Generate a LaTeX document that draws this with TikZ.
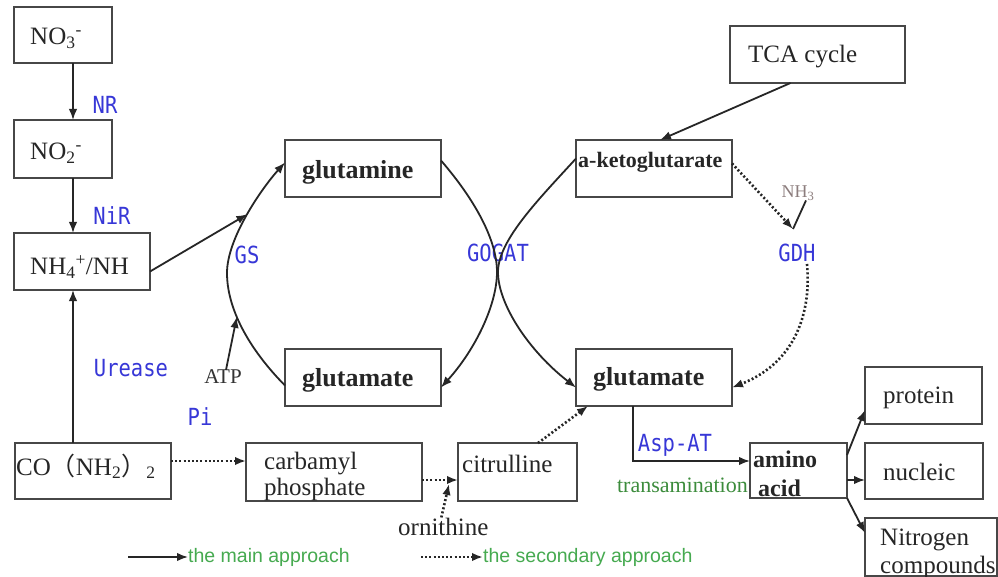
\documentclass[tikz,border=0pt]{standalone}
\usepackage{fontspec}
\usepackage{graphicx}
\setmainfont{Liberation Serif}
\newfontfamily\monof{DejaVu Sans Mono}
\newfontfamily\legf{Liberation Sans}
\newfontfamily\cjk{Noto Sans CJK SC}
\usetikzlibrary{arrows.meta,calc}
\definecolor{linec}{HTML}{262626}
\definecolor{enzc}{RGB}{55,55,215}
\definecolor{legc}{RGB}{70,170,80}
\definecolor{trc}{RGB}{60,140,60}
\definecolor{nhc}{RGB}{140,125,125}
\newcommand\enzt[1]{\scalebox{1}[1.15]{#1}}
\begin{document}
\begin{tikzpicture}[x=1pt,y=-1pt,
  box/.style={draw=linec!85, line width=1.6pt, inner sep=0pt, outer sep=0pt, rectangle},
  txt/.style={inner sep=0pt, anchor=base west, font=\fontsize{25}{26}\selectfont, text=black!85},
  btxt/.style={txt, font=\fontsize{#1}{#1}\selectfont\bfseries},
  enz/.style={inner sep=0pt, text=enzc, font=\monof\fontsize{20.5}{20.5}\selectfont},
  leg/.style={inner sep=0pt, anchor=west, font=\legf\fontsize{19.5}{19.5}\selectfont, text=legc},
  plain/.style={draw=linec, line width=1.8pt},
  arr/.style={plain, -{Latex[length=11pt,width=8.5pt]}},
  dotarr/.style={arr, line width=2.6pt, dash pattern=on 2pt off 2.2pt}
]
\fill[white] (0,0) rectangle (998,577);
\useasboundingbox (0,0) rectangle (998,577);

% boxes
\node[box, minimum width=98pt, minimum height=56pt] (no3) at (63,35) {};
\node[box, minimum width=98pt, minimum height=58pt] (no2) at (63,149) {};
\node[box, minimum width=136pt, minimum height=57pt] (nh4) at (82,261.5) {};
\node[box, minimum width=156pt, minimum height=57pt] (glnA) at (363,168.5) {};
\node[box, minimum width=156pt, minimum height=57pt] (gluL) at (363,377.5) {};
\node[box, minimum width=175pt, minimum height=57pt] (tca) at (817.5,54.5) {};
\node[box, minimum width=156pt, minimum height=57pt] (akg) at (654,168.5) {};
\node[box, minimum width=156pt, minimum height=57pt] (gluR) at (654,377.5) {};
\node[box, minimum width=117pt, minimum height=57pt] (prot) at (923.5,395.5) {};
\node[box, minimum width=118pt, minimum height=56pt] (nucl) at (924,471) {};
\node[box, minimum width=132pt, minimum height=58pt] (nitro) at (931,547) {};
\node[box, minimum width=97pt, minimum height=55pt] (amino) at (798.5,470.5) {};
\node[box, minimum width=119pt, minimum height=58pt] (cit) at (517.5,472) {};
\node[box, minimum width=176pt, minimum height=58pt] (carb) at (334,472) {};
\node[box, minimum width=156pt, minimum height=56pt] (co) at (93,471) {};

% box texts
\node[txt] (tno3) at (30,45) {NO\textsubscript{3}\textsuperscript{-}};
\node[txt] (tno2) at (30,160) {NO\textsubscript{2}\textsuperscript{-}};
\node[txt] (tnh4) at (30,275) {NH\textsubscript{4}\textsuperscript{+}/NH};
\node[btxt=26] (tgln) at (302,179) {glutamine};
\node[btxt=26] (tgluL) at (302,386) {glutamate};
\node[txt] (ttca) at (748,63) {TCA cycle};
\node[btxt=22] (takg) at (578,168) {a-ketoglutarate};
\node[btxt=26] (tgluR) at (593,385) {glutamate};
\node[txt] (tprot) at (883,403) {protein};
\node[txt] (tnucl) at (883,480) {nucleic};
\node[txt] (tnit1) at (880,545) {Nitrogen};
\node[txt] (tnit2) at (880,573) {compounds};
\node[btxt=24] (tam1) at (753,467) {amino};
\node[btxt=24] (tam2) at (758,496) {acid};
\node[txt] (tcit) at (462,472) {citrulline};
\node[txt] (tcb1) at (264,469) {carbamyl};
\node[txt] (tcb2) at (264,495) {phosphate};
\node[txt] (tco) at (16,475) {CO{\cjk （}NH\textsubscript{2}{\cjk ）}\textsubscript{2}};

% enzyme labels
\node[enz] (nr) at (105,105) {\enzt{NR}};
\node[enz] (nir) at (112,216) {\enzt{NiR}};
\node[enz] (ure) at (131,368) {\enzt{Urease}};
\node[enz] (gs) at (247,255) {\enzt{GS}};
\node[enz] (gogat) at (498,253) {\enzt{GOGAT}};
\node[enz] (gdh) at (797,253) {\enzt{GDH}};
\node[enz] (pi) at (200,417) {\enzt{Pi}};
\node[enz] (aspat) at (675,445) {\enzt{Asp-AT}};

% other labels
\node[inner sep=0pt, font=\fontsize{21}{21}\selectfont, text=black!80] (atp) at (223,377) {ATP};
\node[inner sep=0pt, font=\fontsize{18}{18}\selectfont, text=nhc] (nh3) at (798,193) {NH\textsubscript{3}};
\node[txt] (orn) at (398,535) {ornithine};
\node[inner sep=0pt, anchor=east, font=\fontsize{22}{22}\selectfont, text=trc] (trans) at (748,485) {transamination};

% vertical chain
\draw[arr] ($(no3.south)+(10,0)$) -- ($(no2.north)+(10,0)$);
\draw[arr] ($(no2.south)+(10,0)$) -- ($(nh4.north)+(-9,0)$);
\draw[arr] ($(co.north)+(-20,0)$) -- ($(nh4.south)+(-9,0)$);

% GS arc
\coordinate (atpT) at (236.8,316.9);
\coordinate (gsA) at (247.4,214.2);
\draw[arr] ($(gluL.west)+(0,8)$) .. controls (248,348) and (227,308) .. (227,273)
   .. controls (227,238) and (262,188) .. ($(glnA.west)+(0,-6)$);
\draw[arr] ($(nh4.east)+(0,10)$) -- (gsA);
\draw[arr] ($(atp.north)+(3,0)$) -- (atpT);

% GOGAT
\draw[arr] ($(glnA.east)+(0,-8)$) .. controls (475,200) and (497,240) .. (497,272)
   .. controls (497,305) and (475,350) .. ($(gluL.east)+(0,10)$);
\draw[arr] ($(akg.west)+(0,-10)$) .. controls (540,198) and (498,240) .. (498,272)
   .. controls (498,305) and (530,352) .. ($(gluR.west)+(0,10)$);

% TCA
\draw[arr] ($(tca.south)+(-27,0)$) -- ($(akg.north)+(6,0)$);

% GDH
\coordinate (gdhT) at (793,229);
\coordinate (gdhS) at (807,264);
\draw[dotarr] ($(akg.east)+(0,-5)$) -- (gdhT);
\draw[plain] ($(nh3.south)+(8,0)$) -- (gdhT);
\draw[dotarr] (gdhS) .. controls (812,320) and (790,365) .. ($(gluR.east)+(0,10)$);

% amino acid
\draw[arr] ($(gluR.south)+(-21,0)$) |- ($(amino.west)+(0,-9.5)$);
\draw[arr] ($(amino.east)+(0,-15.5)$) -- ($(prot.west)+(0,14.5)$);
\draw[arr] ($(amino.east)+(0,9.5)$) -- ($(nucl.west)+(0,9)$);
\draw[arr] (amino.south east) -- ($(nitro.west)+(0,-14)$);

% urea cycle
\coordinate (ornT) at (449,484);
\draw[dotarr] ($(co.east)+(0,-10)$) -- ($(carb.west)+(0,-11)$);
\draw[dotarr] ($(carb.east)+(0,8)$) -- ($(cit.west)+(0,8)$);
\draw[dotarr] ($(orn.north)+(-2,0)$) -- (ornT);
\draw[dotarr] ($(cit.north)+(20.5,0)$) -- ($(gluR.south)+(-66,0)$);

% legend
\coordinate (lg1s) at (128,557);
\coordinate (lg2s) at (421,557);
\node[leg] (lg1) at (188,557) {the main approach};
\node[leg] (lg2) at (483,557) {the secondary approach};
\draw[arr] (lg1s) -- (lg1.west);
\draw[dotarr] (lg2s) -- (lg2.west);
\end{tikzpicture}
\end{document}
